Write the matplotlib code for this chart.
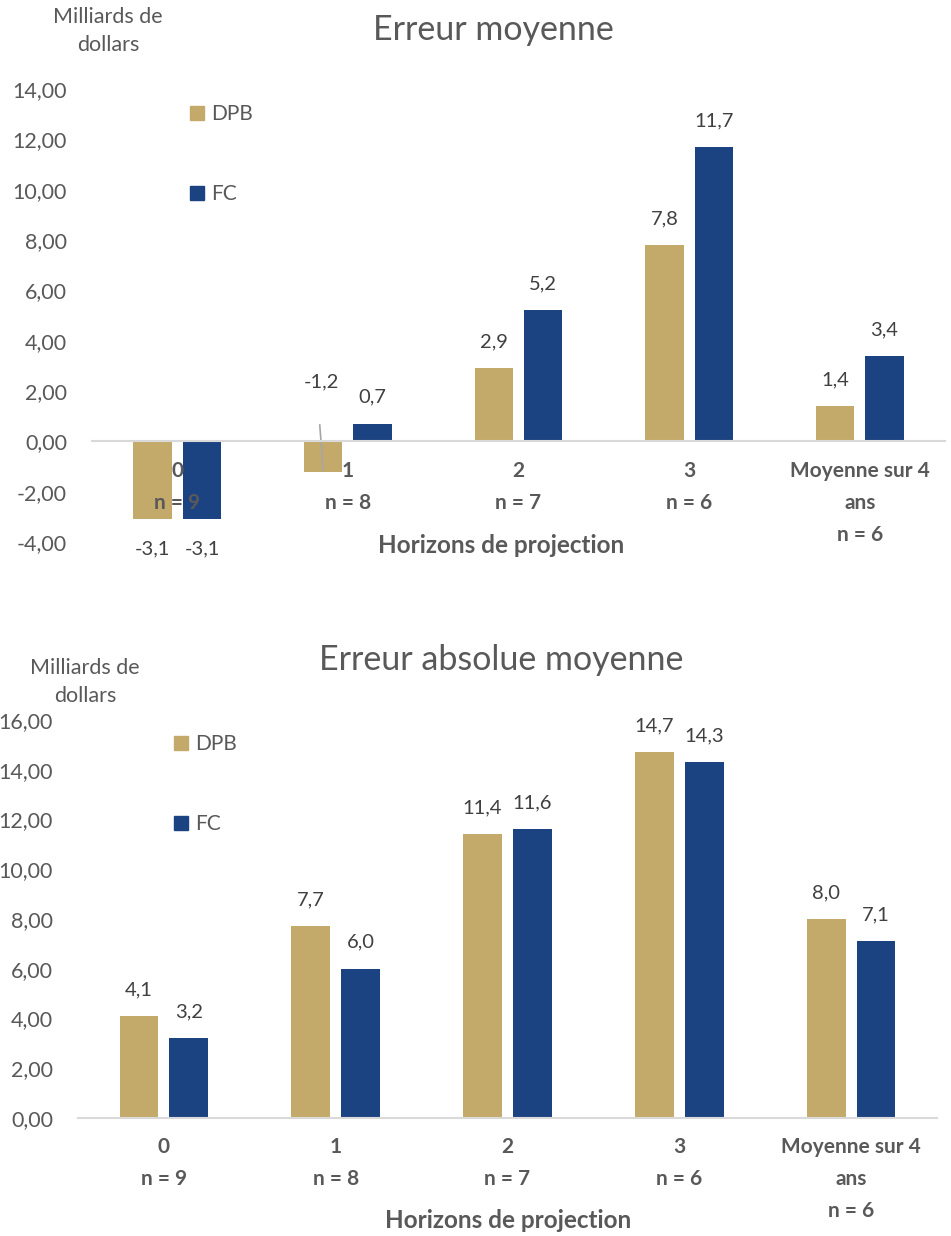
import matplotlib
matplotlib.use('Agg')
from matplotlib import pyplot as plt
from matplotlib.patches import Patch
import numpy as np

plt.rcParams['font.family'] = ['Lato', 'DejaVu Sans']

# données
categories = ['0\nn = 9', '1\nn = 8', '2\nn = 7', '3\nn = 6', 'Moyenne sur 4\nans\nn = 6']
erreur_dpb = [-3.1, -1.2, 2.9, 7.8, 1.4]
erreur_fc = [-3.1, 0.7, 5.2, 11.7, 3.4]
abs_dpb = [4.1, 7.7, 11.4, 14.7, 8.0]
abs_fc = [3.2, 6.0, 11.6, 14.3, 7.1]
series = ['DPB', 'FC']

c_dpb = '#C4AA6A'
c_fc = '#1B4281'
gris_axe = '#D9D9D9'
gris_txt = '#595959'
gris_val = '#404040'

W, H = 951, 1236
fig = plt.figure(figsize=(W / 100, H / 100), dpi=100)

def fx(px):
    return px / W

def fy(py):
    return 1 - py / H

def fmt(v):
    return f'{v:.1f}'.replace('.', ',')

width = 0.225
off = 0.145
x = np.arange(len(categories))

def panel(rect, dpb, fc, ylim, yticks, leg_anchor):
    ax = fig.add_axes(rect)
    # position de l'axe d'abord : set_position réinitialise les graduations
    for s in ['left', 'right', 'top']:
        ax.spines[s].set_visible(False)
    ax.spines['bottom'].set_position(('data', 0))
    ax.spines['bottom'].set_color(gris_axe)
    ax.spines['bottom'].set_linewidth(1.5)
    b1 = ax.bar(x - off, dpb, width, color=c_dpb)
    b2 = ax.bar(x + off, fc, width, color=c_fc)
    ax.set_xlim(-0.5, len(categories) - 0.5)
    ax.set_ylim(*ylim)
    ax.set_yticks(yticks)
    ax.set_yticklabels([f'{t:.2f}'.replace('.', ',') for t in yticks],
                       fontsize=15.5, color=gris_txt)
    ax.set_xticks(x)
    ax.set_xticklabels(categories, fontsize=15, fontweight='bold',
                       color=gris_txt, linespacing=1.75, va='top')
    ax.tick_params(axis='y', length=0, pad=18)
    ax.tick_params(axis='x', length=0, pad=14)
    ax.legend([Patch(color=c_dpb), Patch(color=c_fc)], series,
              loc='upper left', bbox_to_anchor=leg_anchor,
              bbox_transform=fig.transFigure, frameon=False,
              fontsize=15, handlelength=0.65, handleheight=0.65,
              handletextpad=0.35, labelspacing=2.9,
              labelcolor=gris_txt, borderaxespad=0, borderpad=0)
    return ax, b1, b2

def etiquettes(ax, bars, vals, skip=()):
    for i, (r, v) in enumerate(zip(bars, vals)):
        if i in skip:
            continue
        xc = r.get_x() + r.get_width() / 2
        dy = 19 if v >= 0 else -21
        ax.annotate(fmt(v), (xc, v), xytext=(0, dy), textcoords='offset points',
                    ha='center', va='center', fontsize=14.5, color=gris_val)

# Erreur moyenne
ax1, a1, a2 = panel([fx(92), fy(542), fx(945 - 92), (542 - 89) / H],
                    erreur_dpb, erreur_fc, (-4, 14), np.arange(-4, 15, 2),
                    (fx(190), fy(104)))
etiquettes(ax1, a1, erreur_dpb, skip=(1,))
etiquettes(ax1, a2, erreur_fc)
# étiquette -1,2 déplacée avec trait de rappel
r = a1[1]
xc = r.get_x() + r.get_width() / 2
ax1.plot([xc - 0.02, xc], [0.65, erreur_dpb[1] + 0.05], color='#A6A6A6', lw=1.2)
ax1.text(xc - 0.01, 2.35, fmt(erreur_dpb[1]), ha='center', va='center',
         fontsize=14.5, color=gris_val)

fig.text(fx(493), fy(30), 'Erreur moyenne', ha='center', va='center',
         fontsize=24.5, color=gris_txt)
fig.text(fx(108), fy(31), 'Milliards de\ndollars', ha='center', va='center',
         fontsize=15.5, color=gris_txt, linespacing=1.45)
fig.text(fx(501), fy(545), 'Horizons de projection', ha='center', va='center',
         fontsize=17.5, fontweight='bold', color=gris_txt)

# Erreur absolue moyenne
ax2, c1, c2 = panel([fx(78), fy(1118), fx(937 - 78), (1118 - 720) / H],
                    abs_dpb, abs_fc, (0, 16), np.arange(0, 17, 2),
                    (fx(174), fy(734)))
etiquettes(ax2, c1, abs_dpb)
etiquettes(ax2, c2, abs_fc)

fig.text(fx(501), fy(660), 'Erreur absolue moyenne', ha='center', va='center',
         fontsize=24.5, color=gris_txt)
fig.text(fx(85), fy(682), 'Milliards de\ndollars', ha='center', va='center',
         fontsize=15.5, color=gris_txt, linespacing=1.45)
fig.text(fx(508), fy(1221), 'Horizons de projection', ha='center', va='center',
         fontsize=17.5, fontweight='bold', color=gris_txt)

fig.savefig('out.png', dpi=100, facecolor='white')
